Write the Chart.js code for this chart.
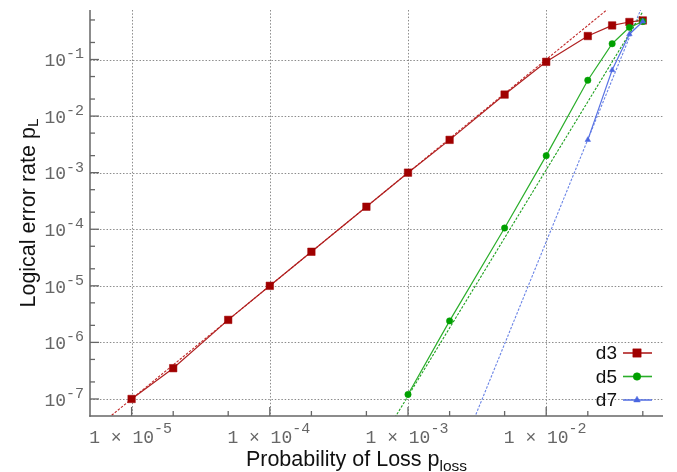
<!DOCTYPE html>
<html>
<head>
<meta charset="utf-8">
<script src="https://cdn.jsdelivr.net/npm/chart.js@4.4.0/dist/chart.umd.min.js"></script>
<style>
  html, body { margin: 0; padding: 0; background: #fff; }
</style>
</head>
<body>
<canvas id="chart" width="677" height="472"></canvas>
<script>
const lossD3 = [1e-5, 2e-5, 5e-5, 1e-4, 2e-4, 5e-4, 1e-3, 2e-3, 5e-3, 1e-2, 2e-2, 3e-2, 4e-2, 5e-2];
const errD3 = [1e-7, 3.5e-7, 2.5e-6, 1e-5, 4e-5, 2.5e-4, 1e-3, 3.8e-3, 0.024, 0.091, 0.26, 0.40, 0.46, 0.49];
const lossD5 = [1e-3, 2e-3, 5e-3, 1e-2, 2e-2, 3e-2, 4e-2, 5e-2];
const errD5 = [1.2e-7, 2.4e-6, 1.05e-4, 2.0e-3, 0.043, 0.19, 0.37, 0.47];
const lossD7 = [2e-2, 3e-2, 4e-2, 5e-2];
const errD7 = [3.8e-3, 0.065, 0.28, 0.47];

// power-law fits (dashed), end points only - clipped by the plot area
const fitLossD3 = [5e-6, 3e-2];
const fitErrD3 = [2.5e-8, 0.9];
const fitLossD5 = [2e-4, 5e-2];
const fitErrD5 = [1.8e-10, 0.70];
const fitLossD7 = [1e-3, 5e-2];
const fitErrD7 = [6e-11, 0.94];

const seriesNames = ['d3', 'd5', 'd7'];
const xTickValues = [1e-5, 1e-4, 1e-3, 1e-2];
const yTickValues = [1e-7, 1e-6, 1e-5, 1e-4, 1e-3, 1e-2, 1e-1];
const minorSteps = [2, 5];

const xTitle = 'Probability of Loss p';
const xTitleSub = 'loss';
const yTitle = 'Logical error rate p';
const yTitleSub = 'L';

const RED = '#a00000', GREEN = '#00a000', BLUE = '#4a66e0';
const styles = [
  { color: RED, line: '#b02020', point: 'rect', r: 5.3 },
  { color: GREEN, line: '#2aae2a', point: 'circle', r: 3.2 },
  { color: BLUE, line: '#5a74e4', point: 'triangle', r: 3.2 }
];

const pts = (xs, ys) => xs.map((x, i) => ({ x, y: ys[i] }));

function series(i, xs, ys) {
  const s = styles[i];
  return {
    label: seriesNames[i],
    data: pts(xs, ys),
    showLine: true,
    borderColor: s.line,
    borderWidth: 1.2,
    pointStyle: s.point,
    pointRadius: s.r,
    pointBackgroundColor: s.color,
    pointBorderColor: s.color,
    pointBorderWidth: 0.5,
    order: 2 - i
  };
}

function fit(color, xs, ys) {
  return {
    data: pts(xs, ys),
    showLine: true,
    borderColor: color,
    borderWidth: 1.1,
    borderDash: [2.5, 1.5],
    pointRadius: 0,
    order: 3
  };
}

const MONO = '"Liberation Mono", "DejaVu Sans Mono", monospace';
const SANS = '"Liberation Sans", Arial, sans-serif';

function line(ctx, x1, y1, x2, y2) {
  ctx.beginPath();
  ctx.moveTo(x1, y1);
  ctx.lineTo(x2, y2);
  ctx.stroke();
}

const decorations = {
  id: 'decorations',
  beforeDatasetsDraw(chart) {
    const { ctx, chartArea: a, scales: { x, y } } = chart;
    ctx.save();
    ctx.strokeStyle = '#8c8c8c';
    ctx.lineWidth = 1;
    ctx.setLineDash([1.5, 1.8]);
    xTickValues.forEach(v => {
      const px = Math.round(x.getPixelForValue(v)) + 0.5;
      line(ctx, px, a.top, px, a.bottom);
    });
    yTickValues.forEach(v => {
      const py = Math.round(y.getPixelForValue(v)) + 0.5;
      line(ctx, a.left, py, a.right, py);
    });
    ctx.restore();
  },
  afterDraw(chart) {
    const { ctx, chartArea: a, scales: { x, y } } = chart;
    ctx.save();

    // axes
    ctx.strokeStyle = '#666';
    ctx.lineWidth = 1.5;
    line(ctx, a.left, a.top, a.left, a.bottom + 0.75);
    line(ctx, a.left - 0.75, a.bottom, a.right, a.bottom);

    // inward ticks
    ctx.lineWidth = 1.3;
    const xmin = x.min, xmax = x.max, ymin = y.min, ymax = y.max;
    for (let e = Math.floor(Math.log10(xmin)); e <= Math.ceil(Math.log10(xmax)); e++) {
      const d = Math.pow(10, e);
      [1, ...minorSteps].forEach(m => {
        const v = m * d;
        if (v < xmin * 1.001 || v > xmax) return;
        const px = x.getPixelForValue(v);
        line(ctx, px, a.bottom, px, a.bottom - (m === 1 ? 9 : 5));
      });
    }
    for (let e = Math.floor(Math.log10(ymin)); e <= Math.ceil(Math.log10(ymax)); e++) {
      const d = Math.pow(10, e);
      [1, ...minorSteps].forEach(m => {
        const v = m * d;
        if (v < ymin * 1.001 || v > ymax) return;
        const py = y.getPixelForValue(v);
        line(ctx, a.left, py, a.left + (m === 1 ? 9 : 5), py);
      });
    }

    // tick labels with superscript exponents
    ctx.fillStyle = '#666';
    ctx.textBaseline = 'middle';
    ctx.textAlign = 'left';
    const baseFont = '18px ' + MONO, expFont = '15px ' + MONO;
    xTickValues.forEach(v => {
      const base = '1 \u00d7 10', exp = String(Math.round(Math.log10(v)));
      ctx.font = baseFont; const bw = ctx.measureText(base).width;
      ctx.font = expFont; const ew = ctx.measureText(exp).width;
      const left = x.getPixelForValue(v) - (bw + ew) / 2 - 1;
      ctx.font = baseFont; ctx.fillText(base, left, a.bottom + 22);
      ctx.font = expFont; ctx.fillText(exp, left + bw, a.bottom + 13);
    });
    yTickValues.forEach(v => {
      const base = '10', exp = String(Math.round(Math.log10(v)));
      ctx.font = baseFont; const bw = ctx.measureText(base).width;
      ctx.font = expFont; const ew = ctx.measureText(exp).width;
      const right = a.left - 6;
      const py = y.getPixelForValue(v);
      ctx.font = baseFont; ctx.fillText(base, right - ew - bw, py + 2);
      ctx.font = expFont; ctx.fillText(exp, right - ew, py - 5);
    });

    // axis titles
    ctx.fillStyle = '#111';
    ctx.textBaseline = 'alphabetic';
    const titleFont = '21.5px ' + SANS, subFont = '15.5px ' + SANS;
    ctx.font = titleFont; let tw = ctx.measureText(xTitle).width;
    ctx.font = subFont; let sw = ctx.measureText(xTitleSub).width;
    let cx = (a.left + a.right) / 2 - 20;
    ctx.font = titleFont; ctx.fillText(xTitle, cx - (tw + sw) / 2, a.bottom + 50);
    ctx.font = subFont; ctx.fillText(xTitleSub, cx - (tw + sw) / 2 + tw, a.bottom + 55);

    ctx.save();
    ctx.translate(35, (a.top + a.bottom) / 2);
    ctx.rotate(-Math.PI / 2);
    ctx.font = titleFont; tw = ctx.measureText(yTitle).width;
    ctx.font = subFont; sw = ctx.measureText(yTitleSub).width;
    ctx.font = titleFont; ctx.fillText(yTitle, -(tw + sw) / 2, 0);
    ctx.font = subFont; ctx.fillText(yTitleSub, -(tw + sw) / 2 + tw, 3);
    ctx.restore();

    // legend, lower right
    ctx.font = '19px ' + SANS;
    ctx.textAlign = 'right';
    ctx.textBaseline = 'middle';
    seriesNames.forEach((name, i) => {
      const s = styles[i];
      const ly = a.bottom - 63 + i * 23.5;
      ctx.fillStyle = '#111';
      ctx.fillText(name, a.right - 46, ly + 1);
      ctx.strokeStyle = s.line;
      ctx.lineWidth = 1.6;
      line(ctx, a.right - 40, ly, a.right - 11, ly);
      ctx.fillStyle = s.color;
      ctx.strokeStyle = s.color;
      ctx.lineWidth = 0.5;
      Chart.helpers.drawPoint(ctx, { pointStyle: s.point, radius: s.r + 0.6, rotation: 0, borderWidth: 0.5 }, a.right - 26, ly);
    });

    ctx.restore();
  }
};

new Chart(document.getElementById('chart'), {
  type: 'scatter',
  data: {
    datasets: [
      series(0, lossD3, errD3),
      series(1, lossD5, errD5),
      series(2, lossD7, errD7),
      fit('#c02828', fitLossD3, fitErrD3),
      fit('#1ea01e', fitLossD5, fitErrD5),
      fit('#6a84e6', fitLossD7, fitErrD7)
    ]
  },
  options: {
    responsive: false,
    devicePixelRatio: 1,
    animation: false,
    layout: { padding: { top: 10, right: 14, bottom: 0, left: 0 } },
    scales: {
      x: {
        type: 'logarithmic',
        min: 5e-6,
        max: 0.07,
        grid: { display: false },
        border: { display: false },
        ticks: { display: false },
        afterFit(scale) { scale.height = 56; }
      },
      y: {
        type: 'logarithmic',
        min: 5e-8,
        max: 0.75,
        grid: { display: false },
        border: { display: false },
        ticks: { display: false },
        afterFit(scale) { scale.width = 90; }
      }
    },
    plugins: {
      legend: { display: false },
      tooltip: { enabled: false }
    }
  },
  plugins: [decorations]
});
</script>
</body>
</html>
